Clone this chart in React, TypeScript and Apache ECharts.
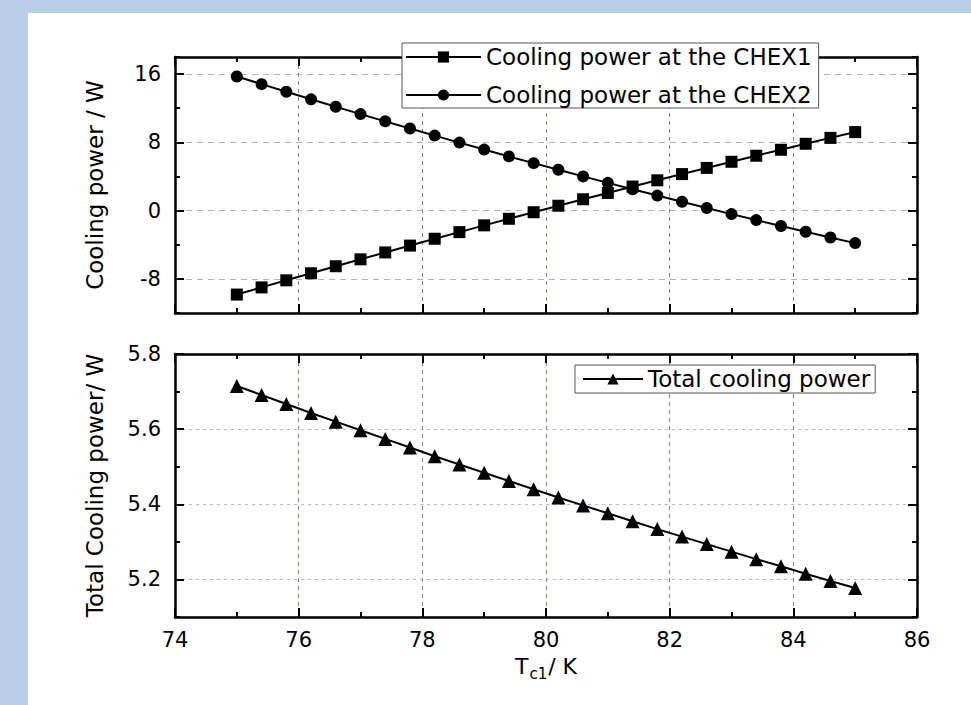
import React, { useEffect, useRef } from "react";
import * as echarts from "echarts";

const FONT = "DejaVu Sans";

// Temperature of CHEX1, K
const TC1 = [75, 75.4, 75.8, 76.2, 76.6, 77, 77.4, 77.8, 78.2, 78.6, 79, 79.4, 79.8, 80.2, 80.6, 81, 81.4, 81.8, 82.2, 82.6, 83, 83.4, 83.8, 84.2, 84.6, 85];

// Cooling power at the CHEX1 (W)
const CHEX1 = [-9.84, -9.0, -8.17, -7.34, -6.52, -5.71, -4.9, -4.1, -3.3, -2.52, -1.73, -0.96, -0.19, 0.57, 1.33, 2.07, 2.82, 3.55, 4.28, 5.0, 5.72, 6.43, 7.13, 7.83, 8.52, 9.2];

// Cooling power at the CHEX2 (W)
const CHEX2 = [15.72, 14.82, 13.93, 13.04, 12.17, 11.31, 10.46, 9.62, 8.79, 7.97, 7.15, 6.35, 5.56, 4.78, 4.01, 3.25, 2.5, 1.76, 1.03, 0.31, -0.41, -1.11, -1.8, -2.48, -3.15, -3.81];

// Total cooling power (W)
const TOTAL = [5.715, 5.691, 5.667, 5.643, 5.62, 5.597, 5.574, 5.551, 5.528, 5.506, 5.484, 5.462, 5.44, 5.418, 5.397, 5.376, 5.355, 5.334, 5.314, 5.294, 5.274, 5.254, 5.235, 5.215, 5.196, 5.177];

const TOP_MAJOR = [-8, 0, 8, 16];
const BOT_MAJOR = [5.2, 5.4, 5.6, 5.8];

const NAME1 = "Cooling power at the CHEX1";
const NAME2 = "Cooling power at the CHEX2";
const NAME3 = "Total cooling power";

const BLACK = { color: "#000", width: 2.5 };
const TICK = { color: "#000", width: 2 };

function xAxisDef(gridIndex: number, position: string, showLabel: boolean, showSplit: boolean, name?: string) {
  return {
    type: "value",
    gridIndex,
    position,
    min: 74,
    max: 86,
    interval: 2,
    axisLine: { show: true, onZero: false, lineStyle: BLACK },
    axisTick: { show: true, inside: true, length: 9, lineStyle: TICK },
    minorTick: { show: true, splitNumber: 2, length: 5, lineStyle: TICK },
    axisLabel: { show: showLabel, margin: 12, color: "#000", fontSize: 21, fontFamily: FONT },
    splitLine: { show: showSplit, lineStyle: { color: "#7b7bbd", type: [4, 4], width: 1 } },
    minorSplitLine: { show: false },
    name: name || "",
    nameLocation: "middle",
    nameGap: 36,
    nameTextStyle: {
      color: "#000",
      fontFamily: FONT,
      rich: {
        t: { fontSize: 22, fontFamily: FONT, color: "#000", lineHeight: 26 },
        s: { fontSize: 15, fontFamily: FONT, color: "#000", lineHeight: 16, padding: [16, 1, 0, 1] },
      },
    },
  };
}

function yMainDef(gridIndex: number, position: string, min: number, max: number, step: number, majors: number[], showLabel: boolean, showSplit: boolean, splitColor: string, splitType: number[], name?: string) {
  return {
    type: "value",
    gridIndex,
    position,
    min,
    max,
    interval: step,
    axisLine: { show: true, onZero: false, lineStyle: BLACK },
    axisTick: { show: true, inside: true, length: 9, customValues: majors, lineStyle: TICK },
    minorTick: { show: false },
    axisLabel: { show: showLabel, customValues: majors, margin: 14, color: "#000", fontSize: 21, fontFamily: FONT },
    splitLine: { show: showSplit, lineStyle: { color: splitColor, type: splitType, width: 1 } },
    name: name || "",
    nameLocation: "middle",
    nameGap: 69,
    nameTextStyle: { color: "#000", fontSize: 23, fontFamily: FONT },
  };
}

function yMinorDef(gridIndex: number, position: string, min: number, max: number, step: number) {
  return {
    type: "value",
    gridIndex,
    position,
    min,
    max,
    interval: step,
    axisLine: { show: false, onZero: false },
    axisTick: { show: true, inside: true, length: 5, lineStyle: TICK },
    axisLabel: { show: false },
    splitLine: { show: false },
  };
}

export default function App() {
  const ref = useRef<HTMLDivElement>(null);

  useEffect(() => {
    if (!ref.current) return;
    const chart = echarts.init(ref.current, undefined, { renderer: "svg" });
    const pairs = (ys: number[]) => TC1.map((x, i) => [x, ys[i]]);

    const option: any = {
      animation: false,
      grid: [
        { left: 175, top: 57, width: 742, height: 256, outerBoundsMode: "none" },
        { left: 175, top: 354, width: 742, height: 263, outerBoundsMode: "none" },
      ],
      xAxis: [
        xAxisDef(0, "bottom", false, true),
        xAxisDef(0, "top", false, false),
        xAxisDef(1, "bottom", true, true, "{t|T}{s|c1}{t|/ K}"),
        xAxisDef(1, "top", false, false),
      ],
      yAxis: [
        yMainDef(0, "left", -12, 18, 4, TOP_MAJOR, true, true, "#b0b0c8", [6, 5], "Cooling power / W"),
        yMinorDef(0, "left", -12, 18, 4),
        yMainDef(0, "right", -12, 18, 4, TOP_MAJOR, false, false, "#b0b0c8", [6, 5]),
        yMinorDef(0, "right", -12, 18, 4),
        yMainDef(1, "left", 5.1, 5.8, 0.1, BOT_MAJOR, true, true, "#b4b4dc", [3, 4], "Total Cooling power/ W"),
        yMinorDef(1, "left", 5.1, 5.8, 0.1),
        yMainDef(1, "right", 5.1, 5.8, 0.1, BOT_MAJOR, false, false, "#b4b4dc", [3, 4]),
        yMinorDef(1, "right", 5.1, 5.8, 0.1),
      ],
      legend: [
        {
          data: [NAME1, NAME2],
          orient: "vertical",
          left: 402,
          top: 43,
          itemWidth: 75,
          itemHeight: 14,
          itemGap: 12,
          padding: [1, 7, 0, 3],
          backgroundColor: "#fff",
          borderColor: "#555",
          borderWidth: 1,
          selectedMode: false,
          textStyle: { fontSize: 23, fontFamily: FONT, color: "#000", lineHeight: 26 },
        },
        {
          data: [NAME3],
          orient: "vertical",
          left: 575,
          top: 365,
          itemWidth: 60,
          itemHeight: 14,
          padding: [2, 5, 2, 7],
          backgroundColor: "#fff",
          borderColor: "#555",
          borderWidth: 1,
          selectedMode: false,
          textStyle: { fontSize: 23, fontFamily: FONT, color: "#000", lineHeight: 24 },
        },
      ],
      series: [
        {
          name: NAME1,
          type: "line",
          xAxisIndex: 0,
          yAxisIndex: 0,
          data: pairs(CHEX1),
          symbol: "rect",
          symbolSize: 12,
          lineStyle: { color: "#000", width: 2 },
          itemStyle: { color: "#000" },
          z: 5,
        },
        {
          name: NAME2,
          type: "line",
          xAxisIndex: 0,
          yAxisIndex: 0,
          data: pairs(CHEX2),
          symbol: "circle",
          symbolSize: 12,
          lineStyle: { color: "#000", width: 2 },
          itemStyle: { color: "#000" },
          z: 5,
        },
        {
          name: NAME3,
          type: "line",
          xAxisIndex: 2,
          yAxisIndex: 4,
          data: pairs(TOTAL),
          symbol: "triangle",
          symbolSize: 14,
          lineStyle: { color: "#000", width: 2 },
          itemStyle: { color: "#000" },
          z: 5,
        },
      ],
    };
    chart.setOption(option);
    return () => chart.dispose();
  }, []);

  return (
    <div style={{ position: "fixed", left: 0, top: 0, width: 971, height: 705, background: "#b9cde5", overflow: "hidden" }}>
      <div style={{ position: "absolute", left: 28, top: 13, right: 0, bottom: 0, background: "#ffffff" }} />
      <div ref={ref} style={{ position: "absolute", left: 0, top: 0, width: 971, height: 705 }} />
    </div>
  );
}
